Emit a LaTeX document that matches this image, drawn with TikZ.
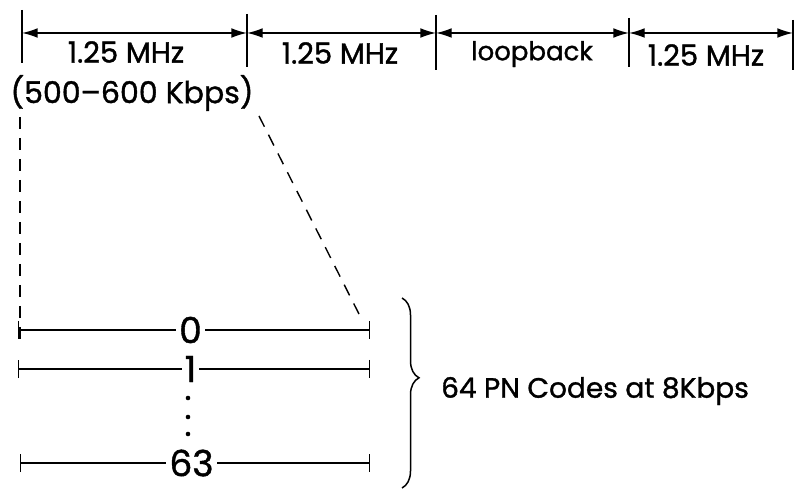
\documentclass[tikz,border=0pt]{standalone}
\usepackage{fontspec}
\setmainfont{Poppins}[FakeBold=1.2]
\usetikzlibrary{arrows.meta,positioning,decorations.pathreplacing}

\begin{document}
\begin{tikzpicture}[x=1pt, y=-1pt,
  lbl/.style={font=\fontsize{29}{31}\selectfont, inner sep=1pt},
  num/.style={font=\fontsize{36}{38}\selectfont, fill=white, inner sep=3pt},
  dim/.style={{Latex[length=5.5mm,width=3.4mm]}-{Latex[length=5.5mm,width=3.4mm]}, line width=1.3pt},
  tickline/.style={line width=1.6pt},
  guide/.style={line width=1.4pt, dash pattern=on 12pt off 9pt},
  codeline/.style={{Bar[width=18pt]}-{Bar[width=18pt]}, line width=1.4pt},
  brc/.style={decorate, decoration={brace, amplitude=17pt, aspect=0.42}, line width=1.5pt}
]
\useasboundingbox (0,0) rectangle (796,489);

\foreach \x/\t/\b [count=\i from 0] in {22/10/63, 247/14/67, 436/15/70, 629/18/67, 793/20/70} {
  \coordinate (m\i) at (\x,33);
  \draw[tickline] (\x,\t) -- (\x,\b);
}
\draw[dim] (m0) -- (m1);
\draw[dim] (m1) -- (m2);
\draw[dim] (m2) -- (m3);
\draw[dim] (m3) -- (m4);

\node[lbl] (band1) at (126,52) {1.25 MHz};
\node[lbl] (band2) at (340,53) {1.25 MHz};
\node[lbl, font=\fontsize{26}{28}\selectfont] (loop) at (532,54) {loopback};
\node[lbl] (band4) at (706,55) {1.25 MHz};
\node[lbl, font=\fontsize{30}{32}\selectfont] (rate) at (132,93) {(500–600 Kbps)};

\coordinate (c0l) at (18,330);  \coordinate (c0r) at (370,330);
\coordinate (c1l) at (18,369);  \coordinate (c1r) at (370,369);
\coordinate (c63l) at (20,463); \coordinate (c63r) at (370,463);
\draw[codeline] (c0l) -- node[num, pos=0.49] (code0) {0} (c0r);
\draw[codeline] (c1l) -- node[num, pos=0.49] (code1) {1} (c1r);
\draw[codeline] (c63l) -- node[num, pos=0.49] (code63) {63} (c63r);
\foreach \y in {398,417,434}
  \fill (188,\y) circle (2.3pt);

\coordinate (gl) at (20,117);
\coordinate (gr) at (259,116);
\draw[guide] (gl) -- (20,345);
\draw[guide] (gr) -- (359,314);

\coordinate (bt) at (402,298);
\coordinate (bb) at (402,488);
\draw[brc] (bt) -- (bb);
\node[lbl, font=\fontsize{28}{30}\selectfont, anchor=west] (pn) at (440,391) {64 PN Codes at 8Kbps};
\end{tikzpicture}
\end{document}
